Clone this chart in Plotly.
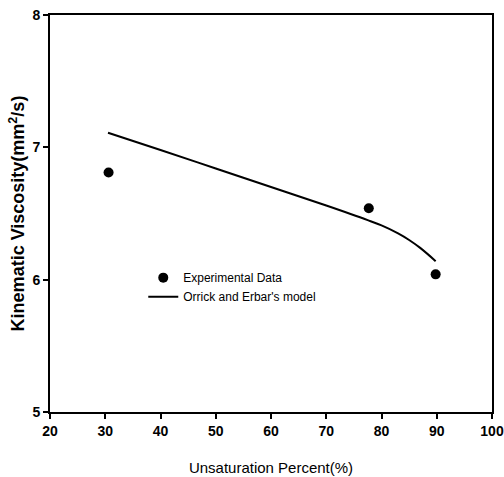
import plotly.graph_objects as go

exp_x = [30.6, 77.7, 89.8]
exp_y = [6.81, 6.54, 6.04]

model_x = [30.5, 40, 50, 60, 70, 77.5, 80, 83, 85, 87, 89.8]
model_y = [7.11, 6.98, 6.84, 6.70, 6.56, 6.45, 6.41, 6.35, 6.30, 6.24, 6.14]

x_ticks = [20, 30, 40, 50, 60, 70, 80, 90, 100]
y_ticks = [5, 6, 7, 8]

fig = go.Figure()
fig.add_trace(go.Scatter(x=exp_x, y=exp_y, mode="markers", name="Experimental Data",
                         marker=dict(color="black", size=10)))
fig.add_trace(go.Scatter(x=model_x, y=model_y, mode="lines", name="Orrick and Erbar's model",
                         line=dict(color="black", width=2, shape="spline")))

axis_common = dict(showline=True, linecolor="black", linewidth=2, mirror=True,
                   ticks="outside", ticklen=5, tickwidth=2, tickcolor="black",
                   showgrid=False, zeroline=False, automargin=False,
                   tickfont=dict(family="Liberation Sans", size=14, color="black", weight="bold"))

fig.update_layout(
    width=504, height=477,
    margin=dict(l=50, r=12, t=15, b=65, autoexpand=False),
    paper_bgcolor="white", plot_bgcolor="white",
    showlegend=True,
    legend=dict(x=0.211, y=0.375, xanchor="left", yanchor="top",
                bgcolor="rgba(0,0,0,0)",
                font=dict(family="Liberation Sans", size=12, color="black")),
    xaxis=dict(range=[20, 100], tickvals=x_ticks,
               title=dict(text="Unsaturation Percent(%)", standoff=25,
                          font=dict(family="Liberation Sans", size=15, color="black")),
               **axis_common),
    yaxis=dict(range=[5, 8], tickvals=y_ticks,
               title=dict(text="Kinematic Viscosity(mm<sup>2</sup>/s)", standoff=3,
                          font=dict(family="Liberation Sans", size=18, color="black", weight="bold")),
               **axis_common),
)

fig.write_html("out.html",
               config={"displayModeBar": False},
               post_script="document.body.style.margin='0px';document.body.style.overflow='hidden';")
